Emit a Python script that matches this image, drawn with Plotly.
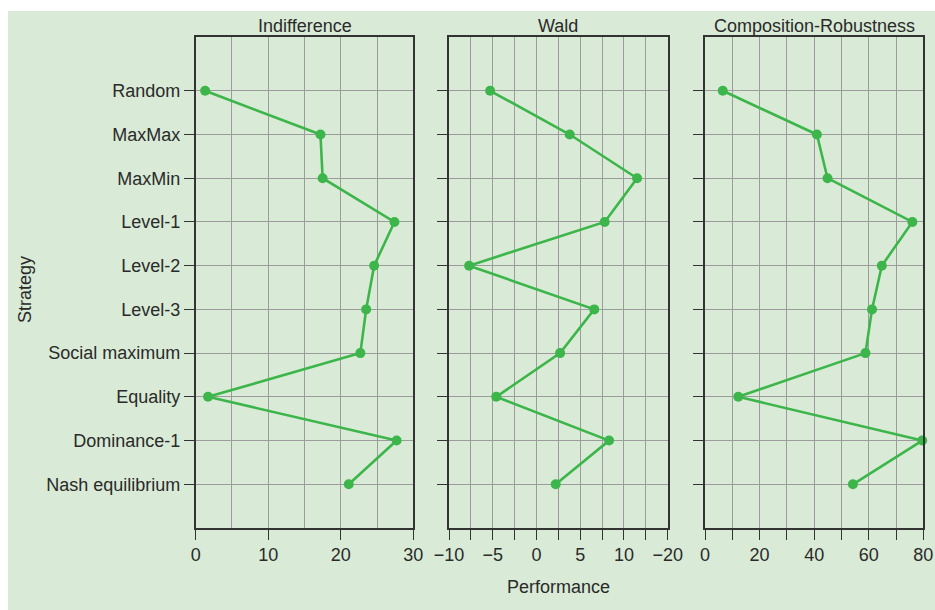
import plotly.graph_objects as go

strategies = ["Random", "MaxMax", "MaxMin", "Level-1", "Level-2", "Level-3",
              "Social maximum", "Equality", "Dominance-1", "Nash equilibrium"]
panel_titles = ["Indifference", "Wald", "Composition-Robustness"]
indifference = [1.3, 17.2, 17.5, 27.4, 24.6, 23.5, 22.7, 1.7, 27.7, 21.1]
wald = [-5.3, 3.8, 11.5, 7.8, -7.7, 6.6, 2.7, -4.6, 8.3, 2.2]
composition_robustness = [6.5, 41.0, 44.9, 76.0, 64.8, 61.2, 58.8, 12.2, 79.6, 54.2]

x1_ticks = [0, 10, 20, 30]
x1_text = ["0", "10", "20", "30"]
x2_ticks = [-10, -5, 0, 5, 10, 15]
x2_text = ["\u221210", "\u22125", "0", "5", "10", "\u221220"]
x3_ticks = [0, 20, 40, 60, 80]
x3_text = ["0", "20", "40", "60", "80"]

W, H = 935, 610
GREEN = "#3cb54a"
BG = "#d9ebd6"
GRID = "#9c9c9c"
AX = "#333333"
FONT = "Liberation Sans, Arial, sans-serif"
TXT = "#2a2a2a"

doms = [(195.7 / W, 413.3 / W), (449.0 / W, 667.7 / W), (705.0 / W, 923.3 / W)]
ydom = [1 - 528.0 / H, 1 - 37.0 / H]
yrange = [10.0, -1.23]

series = [indifference, wald, composition_robustness]
fig = go.Figure()
for i, vals in enumerate(series):
    s = "" if i == 0 else str(i + 1)
    fig.add_trace(go.Scatter(
        x=vals, y=strategies, mode="lines+markers",
        line=dict(color=GREEN, width=2.6),
        marker=dict(color=GREEN, size=10),
        xaxis="x" + s, yaxis="y" + s, showlegend=False, hoverinfo="skip",
        cliponaxis=False))

xcfg = [
    dict(range=[0, 30], tickvals=x1_ticks, ticktext=x1_text,
         minor=dict(dtick=5, tick0=0, showgrid=True, gridcolor=GRID, gridwidth=1.2, ticks="")),
    dict(range=[-10, 15], tickvals=x2_ticks, ticktext=x2_text,
         minor=dict(dtick=2.5, tick0=0, showgrid=True, gridcolor=GRID, gridwidth=1.2,
                    ticks="outside", ticklen=10, tickcolor=AX, tickwidth=1.3)),
    dict(range=[0, 80], tickvals=x3_ticks, ticktext=x3_text,
         minor=dict(dtick=10, tick0=0, showgrid=True, gridcolor=GRID, gridwidth=1.2,
                    ticks="outside", ticklen=10, tickcolor=AX, tickwidth=1.3)),
]

layout = dict(
    width=W, height=H,
    margin=dict(l=0, r=0, t=0, b=0, autoexpand=False),
    paper_bgcolor="white", plot_bgcolor=BG,
    font=dict(family=FONT, size=18, color=TXT),
    showlegend=False,
)
for i in range(3):
    s = "" if i == 0 else str(i + 1)
    xa = dict(domain=list(doms[i]), anchor="y" + s, showgrid=True, gridcolor=GRID, gridwidth=1.2,
              showline=True, linecolor=AX, linewidth=1.6, mirror=True,
              ticks="outside", ticklen=10, tickcolor=AX, tickwidth=1.3,
              tickfont=dict(size=18, color=TXT, family=FONT), zeroline=False,
              automargin=False, tickmode="array")
    xa.update(xcfg[i])
    ya = dict(domain=ydom, anchor="x" + s, type="category", categoryorder="array",
              categoryarray=strategies, range=yrange,
              showgrid=True, gridcolor=GRID, gridwidth=1.2,
              showline=True, linecolor=AX, linewidth=1.6, mirror=True,
              ticks="outside", ticklen=10, tickcolor=AX, tickwidth=1.3,
              showticklabels=(i == 0), tickfont=dict(size=18, color=TXT, family=FONT),
              zeroline=False, automargin=False)
    layout["xaxis" + s] = xa
    layout["yaxis" + s] = ya

fig.update_layout(**layout)

# green panel background (leaves thin white strip at top/left)
fig.add_shape(type="rect", xref="paper", yref="paper", x0=8.0 / W, x1=1.0, y0=0.0, y1=1 - 11.0 / H,
              fillcolor=BG, line=dict(width=0), layer="below")

for i, t in enumerate(panel_titles):
    fig.add_annotation(text=t, xref="paper", yref="paper",
                       x=(doms[i][0] + doms[i][1]) / 2, y=1 - 25.5 / H,
                       showarrow=False, font=dict(size=18, color=TXT, family=FONT),
                       xanchor="center", yanchor="middle")

fig.add_annotation(text="Strategy", xref="paper", yref="paper", x=25.0 / W, y=1 - 290.0 / H,
                   textangle=-90, showarrow=False, font=dict(size=18, color=TXT, family=FONT),
                   xanchor="center", yanchor="middle")
fig.add_annotation(text="Performance", xref="paper", yref="paper", x=558.0 / W, y=1 - 587.0 / H,
                   showarrow=False, font=dict(size=18, color=TXT, family=FONT),
                   xanchor="center", yanchor="middle")

fig.write_html("out.html",
               config={"displayModeBar": False},
               post_script="document.body.style.margin='0';document.body.style.overflow='hidden';")
